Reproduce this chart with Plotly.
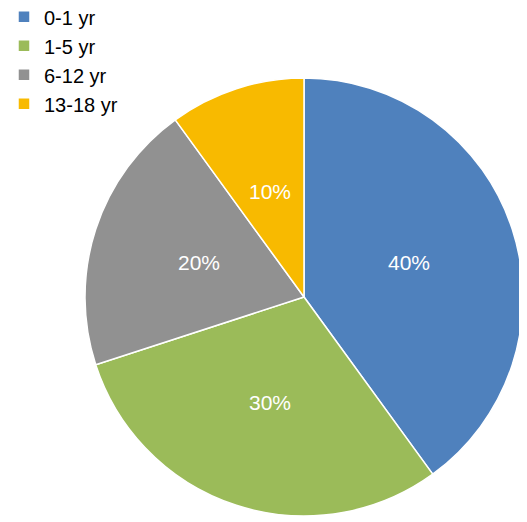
import math
import plotly.graph_objects as go

labels = ["0-1 yr", "1-5 yr", "6-12 yr", "13-18 yr"]
values = [40, 30, 20, 10]
colors = ["#4F81BD", "#9BBB59", "#919191", "#F8BA00"]

W, H = 527, 522
# pie placement (figure pixels; page has an 8px body margin)
cx, cy, R = 296, 289, 219
dom_x = [(cx - R) / W, (cx + R) / W]
dom_y = [1 - (cy + R) / H, 1 - (cy - R) / H]

fig = go.Figure(go.Pie(
    labels=labels, values=values, sort=False, direction="clockwise", rotation=0,
    marker=dict(colors=colors, line=dict(color="white", width=1.5)),
    textinfo="none",
    domain=dict(x=dom_x, y=dom_y),
    hoverinfo="label+percent",
))

# percent labels placed at mid-angle of each slice (Excel-style, ~half radius)
total = sum(values)
cum = 0
annotations = []
for v in values:
    mid = (cum + v / 2) / total * 2 * math.pi
    cum += v
    r = 0.505 * R
    px = cx + r * math.sin(mid)
    py = cy - r * math.cos(mid)
    annotations.append(dict(
        x=px / W, y=1 - py / H, xref="paper", yref="paper",
        text=f"{round(v / total * 100)}%", showarrow=False,
        font=dict(color="white", size=21, family="Liberation Sans, Arial"),
        xanchor="center", yanchor="middle",
    ))

fig.update_layout(
    width=W, height=H,
    margin=dict(l=0, r=0, t=0, b=0, autoexpand=False),
    paper_bgcolor="white",
    font=dict(family="Liberation Sans, Arial", size=20, color="#000000"),
    showlegend=True,
    annotations=annotations,
    legend=dict(x=-0.0076, y=1.0205, xanchor="left", yanchor="top",
                font=dict(size=20), itemwidth=30, tracegroupgap=0,
                bgcolor="rgba(0,0,0,0)"),
)
fig.write_html("out.html")
